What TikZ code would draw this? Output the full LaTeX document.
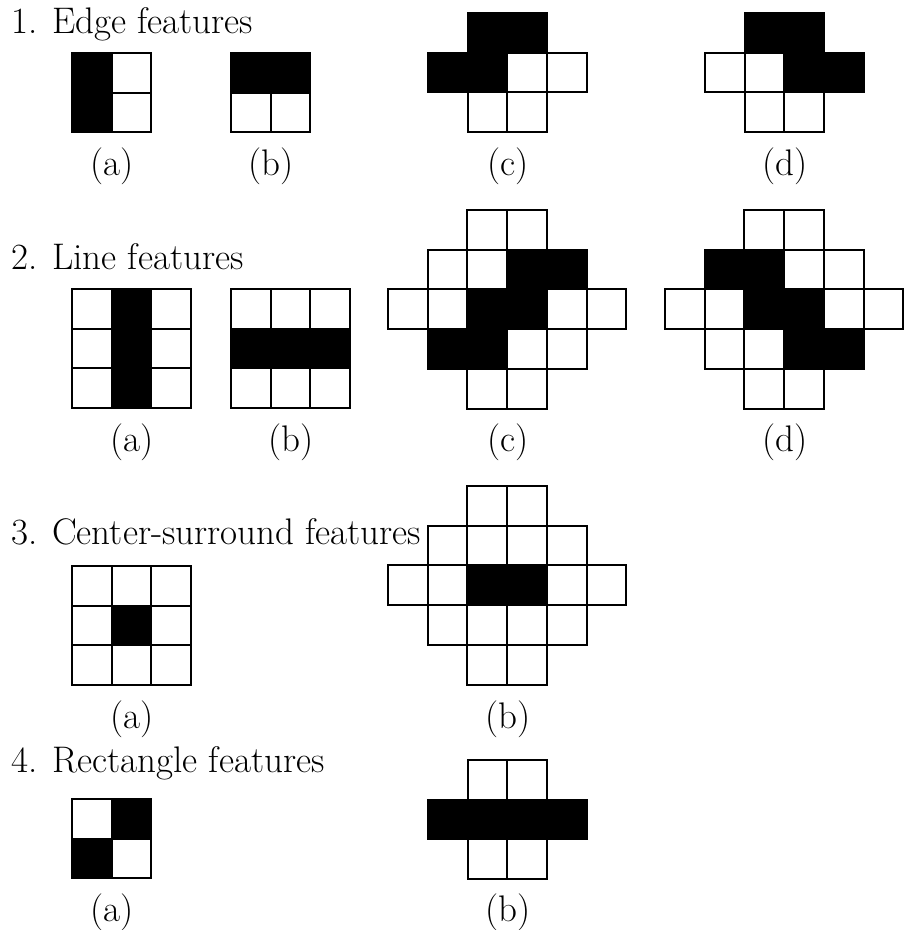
\documentclass[tikz,border=0pt]{standalone}
\begin{document}
\def\cs{39.7pt}
\newcommand{\feat}[3]{%
  \begin{scope}[shift={#1},x=\cs,y=-\cs]
    \foreach \i/\j in {#2} \draw[whitecell] (\i,\j) rectangle ++(1,1);
    \foreach \i/\j in {#3} \filldraw[blackcell] (\i,\j) rectangle ++(1,1);
  \end{scope}}
\newcommand{\gap}{\hspace{0.4em}}
\begin{tikzpicture}[x=1pt,y=-1pt,
  whitecell/.style={draw=black,fill=white,line width=2pt},
  blackcell/.style={draw=black,fill=black,line width=2pt},
  title/.style={anchor=base west,inner sep=0pt,font=\fontsize{37}{44}\selectfont},
  sublabel/.style={anchor=base,inner sep=0pt,font=\fontsize{37}{44}\selectfont}]
\useasboundingbox (0,0) rectangle (906,930);
% ---------- 1. Edge features
\node[title] (t1) at (11,33) {1.\gap Edge features};
\feat{(72,53)}{1/0,1/1}{0/0,0/1}
\feat{(231,53)}{0/1,1/1}{0/0,1/0}
\feat{(428,13)}{2/1,3/1,1/2,2/2}{1/0,2/0,0/1,1/1}
\feat{(705,13)}{0/1,1/1,1/2,2/2}{1/0,2/0,2/1,3/1}
\node[sublabel] (l1a) at (112,175) {(a)};
\node[sublabel] (l1b) at (271,175) {(b)};
\node[sublabel] (l1c) at (508,175) {(c)};
\node[sublabel] (l1d) at (785,175) {(d)};
% ---------- 2. Line features
\node[title] (t2) at (11,269) {2.\gap Line features};
\feat{(72,289)}{0/0,2/0,0/1,2/1,0/2,2/2}{1/0,1/1,1/2}
\feat{(231,289)}{0/0,1/0,2/0,0/2,1/2,2/2}{0/1,1/1,2/1}
\feat{(388,210)}{2/0,3/0,1/1,2/1,0/2,1/2,4/2,5/2,3/3,4/3,2/4,3/4}{3/1,4/1,2/2,3/2,1/3,2/3}
\feat{(665,210)}{2/0,3/0,3/1,4/1,0/2,1/2,4/2,5/2,1/3,2/3,2/4,3/4}{1/1,2/1,2/2,3/2,3/3,4/3}
\node[sublabel] (l2a) at (132,451) {(a)};
\node[sublabel] (l2b) at (291,451) {(b)};
\node[sublabel] (l2c) at (508,451) {(c)};
\node[sublabel] (l2d) at (785,451) {(d)};
% ---------- 3. Center-surround features
\node[title] (t3) at (11,544) {3.\gap Center-surround features};
\feat{(72,566)}{0/0,1/0,2/0,0/1,2/1,0/2,1/2,2/2}{1/1}
\feat{(388,486)}{2/0,3/0,1/1,2/1,3/1,4/1,0/2,1/2,4/2,5/2,1/3,2/3,3/3,4/3,2/4,3/4}{2/2,3/2}
\node[sublabel] (l3a) at (132,728) {(a)};
\node[sublabel] (l3b) at (508,728) {(b)};
% ---------- 4. Rectangle features
\node[title] (t4) at (11,772) {4.\gap Rectangle features};
\feat{(72,799)}{0/0,1/1}{1/0,0/1}
\feat{(428,760)}{1/0,2/0,1/2,2/2}{0/1,1/1,2/1,3/1}
\node[sublabel] (l4a) at (112,921) {(a)};
\node[sublabel] (l4b) at (508,921) {(b)};
\end{tikzpicture}
\end{document}
